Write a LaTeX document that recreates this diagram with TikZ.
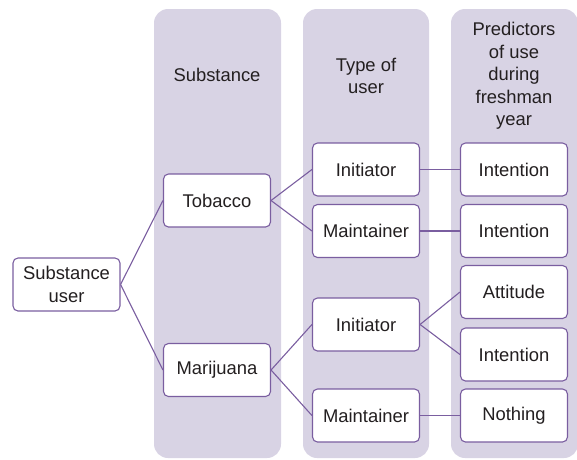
\documentclass[tikz,border=0pt]{standalone}
\usepackage{fontspec}
\setmainfont{Liberation Sans}
\definecolor{colfill}{RGB}{216,211,228}
\definecolor{edgec}{RGB}{122,94,160}
\definecolor{txt}{RGB}{35,31,32}
\begin{document}
\begin{tikzpicture}[x=1pt,y=-1pt,
  every node/.style={font=\fontsize{18.4}{22.5}\selectfont, text=txt, align=center},
  colbg/.style={fill=colfill, draw=none, rounded corners=14pt},
  box/.style={draw=edgec, fill=white, line width=1.1pt, rounded corners=5pt,
    minimum width=107pt, minimum height=53pt, inner sep=0pt},
  conn/.style={draw=edgec, line width=1.1pt}]
\useasboundingbox (0,0) rectangle (577,459);
% column backgrounds
\path[colbg] (154,9) rectangle (281,458);
\path[colbg] (303,9) rectangle (429,458);
\path[colbg] (451,9) rectangle (578,458);
% headers
\node (h1) at (217,75) {Substance};
\node (h2) at (366,76) {Type of\\user};
\node (h3) at (514,76) {Predictors\\of use\\during\\freshman\\year};
% nodes
\node[box] (su) at (66.5,284.5) {Substance\\user};
\node[box] (tob) at (217,200.5) {Tobacco};
\node[box] (mar) at (217,370) {Marijuana};
\node[box] (ini1) at (366,169.5) {Initiator};
\node[box] (mai1) at (366,231) {Maintainer};
\node[box] (ini2) at (366,324.5) {Initiator};
\node[box] (mai2) at (366,415.5) {Maintainer};
\node[box] (int1) at (514,169.5) {Intention};
\node[box] (int2) at (514,231) {Intention};
\node[box] (att) at (514,292) {Attitude};
\node[box] (int3) at (514,354.5) {Intention};
\node[box] (not) at (514,415.5) {Nothing};
% connectors
\draw[conn] (su.east) -- (tob.west);
\draw[conn] (su.east) -- (mar.west);
\draw[conn] (tob.east) -- (ini1.west);
\draw[conn] (tob.east) -- (mai1.west);
\draw[conn] (mar.east) -- (ini2.west);
\draw[conn] (mar.east) -- (mai2.west);
\draw[conn] (ini1.east) -- (int1.west);
\draw[conn] (mai1.east) -- (int2.west);
\draw[conn] (ini2.east) -- (att.west);
\draw[conn] (ini2.east) -- (int3.west);
\draw[conn] (mai2.east) -- (not.west);
\end{tikzpicture}
\end{document}
